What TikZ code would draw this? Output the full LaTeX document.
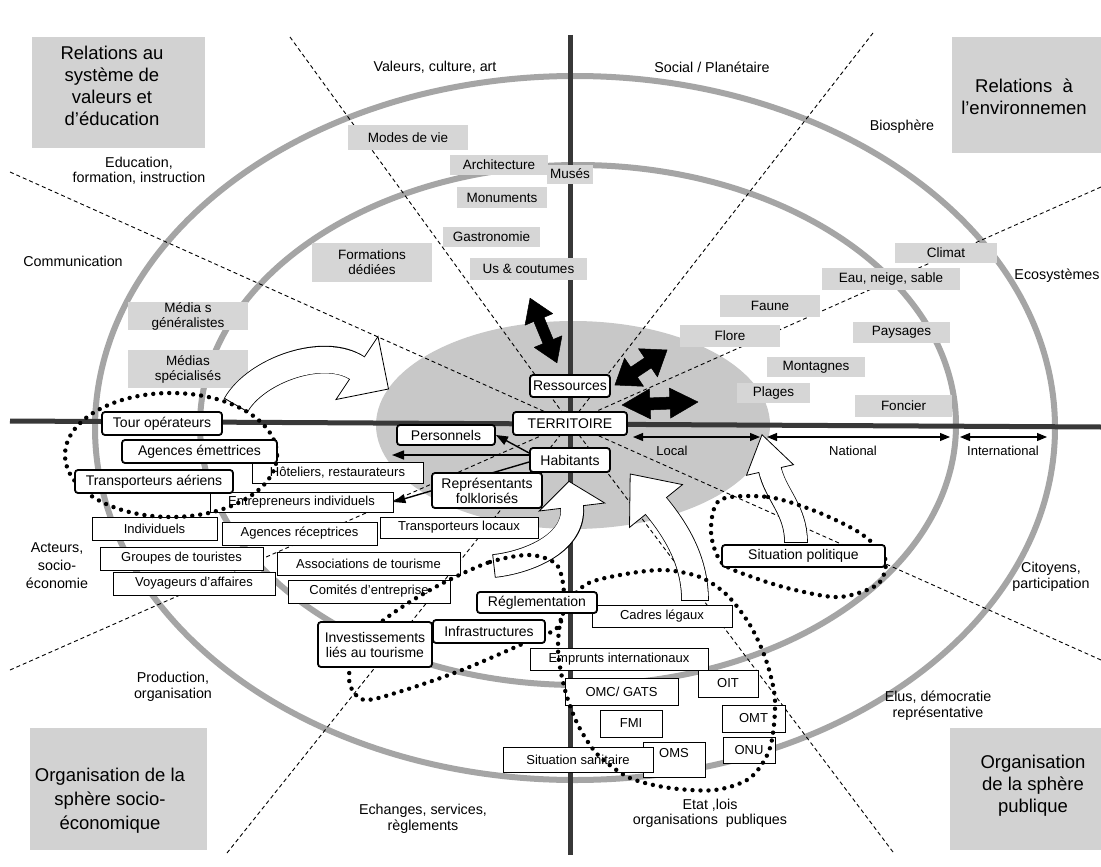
\documentclass[tikz,border=0pt]{standalone}
\usepackage{fontspec}
\setmainfont{Liberation Sans}
\usetikzlibrary{arrows.meta,shadows}

\definecolor{ringgray}{HTML}{A5A5A5}
\definecolor{coregray}{HTML}{C8C8C8}
\definecolor{tagfill}{HTML}{D6D6D6}
\definecolor{cornerfill}{HTML}{D2D2D2}
\definecolor{axisgray}{HTML}{383838}

\pgfdeclarelayer{base}
\pgfdeclarelayer{lower}
\pgfdeclarelayer{flows}
\pgfdeclarelayer{top}
\pgfsetlayers{base,lower,flows,main,top}

\tikzset{
  tag/.style={fill=tagfill, inner sep=0pt, align=center, font=\fontsize{13.5}{15}\selectfont},
  cornerbox/.style={fill=cornerfill, inner sep=0pt},
  cornertext/.style={align=center, inner sep=0pt, font=\fontsize{18.5}{22}\selectfont},
  sector/.style={align=center, inner sep=0pt, font=\fontsize{14.3}{16}\selectfont},
  scalelabel/.style={inner sep=0pt, font=\fontsize{13}{15}\selectfont},
  keybox/.style={draw=black, line width=1.8pt, rounded corners=3pt, fill=white, inner sep=0pt, align=center, font=\fontsize{14}{15}\selectfont},
  plainbox/.style={draw=black, line width=0.8pt, fill=white, inner sep=0pt, align=center, font=\fontsize{13}{15}\selectfont,
    drop shadow={shadow xshift=1.2pt, shadow yshift=-1.2pt, fill=black!75, opacity=1}},
  ring/.style={draw=ringgray, line width=6pt},
  mainaxis/.style={draw=axisgray, line width=5pt},
  spoke/.style={draw=black, line width=0.9pt, dash pattern=on 4pt off 3pt},
  dotring/.style={draw=black, line width=4.4pt, line cap=round, dash pattern=on 0pt off 8pt},
  link/.style={draw=black, line width=1.4pt, -{Triangle[length=12pt,width=9pt]}},
  span/.style={draw=black, line width=1.1pt, {Triangle[length=10pt,width=8pt]}-{Triangle[length=10pt,width=8pt]}},
  bandedge/.style={draw=black, line width=#1},
  bandfill/.style={draw=white, line width=#1},
  tiphead/.style={fill=white, draw=black, line width=0.8pt},
  twinhead/.style={fill=black, draw=black, line width=0.5pt, line join=round},
}

\begin{document}
\begin{tikzpicture}[x=1pt, y=-1pt]
\useasboundingbox (0,0) rectangle (1101,867);

\begin{pgfonlayer}{base}
\fill[white] (0,0) rectangle (1101,867);

% territory core and the two rings
\fill[coregray] (573,425) ellipse [x radius=197pt, y radius=104pt];
\draw[ring] (578,425) ellipse [x radius=378pt, y radius=260pt];
\draw[ring] (575,428) ellipse [x radius=480pt, y radius=352pt];

% dashed sector spokes
\coordinate (hub) at (570,423);
\coordinate (s1) at (290,37);
\coordinate (s2) at (10,172);
\coordinate (s3) at (873,33);
\coordinate (s4) at (1101,187);
\coordinate (s5) at (10,670);
\coordinate (s6) at (227,853);
\coordinate (s7) at (893,852);
\coordinate (s8) at (1101,660);
\foreach \s in {s1,s2,s3,s4,s5,s6,s7,s8} \draw[spoke] (\s) -- (hub);

% main axes
\coordinate (vtop) at (570,35);
\coordinate (vbot) at (570,855);
\coordinate (hleft) at (10,421);
\coordinate (hright) at (1101,427);
\draw[mainaxis] (vtop) -- (vbot);
\draw[mainaxis] (hleft) -- (hright);

% scale of the territory
\coordinate (loc1) at (633,437);
\coordinate (loc2) at (760,437);
\coordinate (nat1) at (767,437);
\coordinate (nat2) at (950,437);
\coordinate (int1) at (960,437);
\coordinate (int2) at (1047,437);
\draw[span] (loc1) -- (loc2);
\draw[span] (nat1) -- (nat2);
\draw[span] (int1) -- (int2);
\end{pgfonlayer}

\begin{pgfonlayer}{lower}
% corner headings
\node[cornerbox, minimum width=173pt, minimum height=111pt] (cTL) at (118.5,92.5) {};
\node[cornertext] (tTL) at (112,86) {Relations au\\système de\\valeurs et\\d'éducation};
\node[cornerbox, minimum width=149pt, minimum height=116pt] (cTR) at (1026.5,95) {};
\node[cornertext] (tTR) at (1024,97) {Relations\ \ à\\l'environnemen};
\node[cornerbox, minimum width=177pt, minimum height=122pt] (cBL) at (118.5,789) {};
\node[cornertext, font=\fontsize{18.5}{24}\selectfont] (tBL) at (110,801) {Organisation de la\\sphère socio-\\économique};
\node[cornerbox, minimum width=151pt, minimum height=122pt] (cBR) at (1025.5,789) {};
\node[cornertext] (tBR) at (1033,786) {Organisation\\de la sphère\\publique};

% sector labels
\node[sector] (valeurs) at (435,67) {Valeurs, culture, art};
\node[sector] (social) at (712,67) {Social / Planétaire};
\node[sector] (bios) at (902,127) {Biosphère};
\node[sector, font=\fontsize{14.3}{15}\selectfont] (educ) at (139,171) {Education,\\formation, instruction};
\node[sector] (comm) at (73,261) {Communication};
\node[sector] (ecos) at (1057,276) {Ecosystèmes};
\node[sector, font=\fontsize{14.3}{18}\selectfont] (acteurs) at (57,566) {Acteurs,\\socio-\\économie};
\node[sector] (citoy) at (1051,577) {Citoyens,\\participation};
\node[sector] (prod) at (173,687) {Production,\\organisation};
\node[sector] (echg) at (423,819) {Echanges, services,\\règlements};
\node[sector, font=\fontsize{14.3}{15}\selectfont] (etat) at (710,813) {Etat ,lois\\organisations\ \ publiques};
\node[sector] (elus) at (938,706) {Elus, démocratie\\représentative};
\node[scalelabel] (local) at (672,451) {Local};
\node[scalelabel] (natl) at (853,451) {National};
\node[scalelabel] (intl) at (1003,451) {International};

% resources of the territory
\node[tag, minimum width=120pt, minimum height=25pt] (modes) at (408,137.5) {Modes de vie};
\node[tag, minimum width=98pt, minimum height=20pt] (archi) at (499,165) {Architecture};
\node[tag, minimum width=46pt, minimum height=19pt] (muses) at (570,174) {Musés};
\node[tag, minimum width=90pt, minimum height=21pt] (monu) at (502,197.5) {Monuments};
\node[tag, minimum width=97pt, minimum height=20pt] (gastro) at (491.5,237) {Gastronomie};
\node[tag, minimum width=117pt, minimum height=22pt] (usc) at (528.5,269) {Us \& coutumes};
\node[tag, minimum width=120pt, minimum height=39pt] (forma) at (372,262.5) {Formations\\dédiées};
\node[tag, minimum width=120pt, minimum height=28pt] (mediag) at (188,316) {Média s\\généralistes};
\node[tag, minimum width=120pt, minimum height=38pt] (medias) at (188,369) {Médias\\spécialisés};
\node[tag, minimum width=102pt, minimum height=20pt] (climat) at (946,253) {Climat};
\node[tag, minimum width=138pt, minimum height=22pt] (eau) at (891,279) {Eau, neige, sable};
\node[tag, minimum width=100pt, minimum height=22pt] (faune) at (770,306) {Faune};
\node[tag, minimum width=100pt, minimum height=22pt] (flore) at (730,336) {Flore};
\node[tag, minimum width=97pt, minimum height=21pt] (pays) at (901.5,332.5) {Paysages};
\node[tag, minimum width=98pt, minimum height=20pt] (mont) at (816,367) {Montagnes};
\node[tag, minimum width=73pt, minimum height=20pt] (plages) at (773.5,393) {Plages};
\node[tag, minimum width=97pt, minimum height=22pt] (foncier) at (903.5,406) {Foncier};

% actors and institutions
\node[plainbox, minimum width=171pt, minimum height=21pt] (hotel) at (337.5,472.5) {Hôteliers, restaurateurs};
\node[plainbox, minimum width=183pt, minimum height=20pt] (entre) at (301.5,502) {Entrepreneurs individuels};
\node[plainbox, minimum width=125pt, minimum height=23pt] (indiv) at (154.5,528.5) {Individuels};
\node[plainbox, minimum width=155pt, minimum height=23pt] (agrec) at (299.5,533.5) {Agences réceptrices};
\node[plainbox, minimum width=158pt, minimum height=21pt] (trloc) at (459,527.5) {Transporteurs locaux};
\node[plainbox, minimum width=163pt, minimum height=23pt] (group) at (181.5,558.5) {Groupes de touristes};
\node[plainbox, minimum width=183pt, minimum height=23pt] (assoc) at (368.5,563.5) {Associations de tourisme};
\node[plainbox, minimum width=162pt, minimum height=23pt] (voyag) at (194,583.5) {Voyageurs d'affaires};
\node[plainbox, minimum width=162pt, minimum height=23pt] (comit) at (369,591.5) {Comités d'entreprise};
\node[plainbox, minimum width=140pt, minimum height=22pt] (cadres) at (662,616) {Cadres légaux};
\node[plainbox, minimum width=178pt, minimum height=22pt] (empr) at (619,659) {Emprunts internationaux};
\node[plainbox, minimum width=60pt, minimum height=27pt] (oit) at (728,683.5) {OIT};
\node[plainbox, minimum width=113pt, minimum height=27pt] (omc) at (621.5,691.5) {OMC/ GATS};
\node[plainbox, minimum width=62pt, minimum height=27pt] (fmi) at (631,723.5) {FMI};
\node[plainbox, minimum width=63pt, minimum height=27pt] (omt) at (753.5,718.5) {OMT};
\node[plainbox, minimum width=52pt, minimum height=26pt] (onu) at (749,750) {ONU};
\node[plainbox, minimum width=62pt, minimum height=35pt, text depth=14pt] (oms) at (674,759.5) {OMS};
\node[plainbox, minimum width=150pt, minimum height=25pt] (sitsan) at (578,759.5) {Situation sanitaire};
\end{pgfonlayer}

\begin{pgfonlayer}{flows}
% white flow arrows
\coordinate (aT) at (236,405);
\coordinate (aB) at (357,368);
\draw[bandedge=27.6pt] (aT) .. controls (256,370) and (324,346) .. (aB);
\filldraw[tiphead] (378,336.5) -- (388.5,389) -- (336,399.5) -- cycle;
\draw[bandfill=26pt, shorten >=-1.5pt] (aT) .. controls (256,370) and (324,346) .. (aB);
\draw[line width=0.8pt] (224,398.1) -- (248,411.9);

\coordinate (bT) at (494,566);
\coordinate (bB) at (572,507);
\draw[bandedge=23.6pt] (bT) .. controls (530,562) and (576,542) .. (bB);
\filldraw[tiphead] (604.7,503) -- (568.9,481.3) -- (539.3,511) -- cycle;
\draw[bandfill=22pt, shorten >=-1.5pt] (bT) .. controls (530,562) and (576,542) .. (bB);
\draw[line width=0.8pt] (495.3,577.7) -- (492.7,554.3);

\coordinate (cT) at (695,600);
\coordinate (cB) at (656,506);
\draw[bandedge=27.6pt] (cT) .. controls (695,560) and (675,529) .. (cB);
\filldraw[tiphead] (682.5,484.6) -- (630.2,474) -- (629.5,527.4) -- cycle;
\draw[bandfill=26pt, shorten >=-1.5pt] (cT) .. controls (695,560) and (675,529) .. (cB);
\draw[line width=0.8pt] (681.2,600) -- (708.8,600);

\coordinate (dT) at (796,542);
\coordinate (dB) at (770,470);
\draw[bandedge=23.6pt] (dT) .. controls (796,510) and (775.5,494.5) .. (dB);
\filldraw[tiphead] (793.5,464.7) -- (762,434.7) -- (746.5,475.3) -- cycle;
\draw[bandfill=22pt, shorten >=-1.5pt] (dT) .. controls (796,510) and (775.5,494.5) .. (dB);
\draw[line width=0.8pt] (784.2,542) -- (807.8,542);

% dotted groupings
\draw[dotring] (171,455) ellipse [x radius=106pt, y radius=62pt];
\draw[dotring] plot[smooth cycle] coordinates {(445,582) (490,562) (530,555) (557,565) (564,595) (558,627) (520,645) (462,670) (405,690) (365,700) (350,685) (352,660) (372,630) (405,605)};
\draw[dotring] plot[smooth cycle] coordinates {(585,585) (620,575) (663,570) (700,577) (727,595) (750,625) (766,660) (775,700) (770,748) (750,778) (715,790) (670,788) (630,778) (598,755) (578,725) (565,690) (558,650) (563,612)};
\draw[dotring] plot[smooth cycle] coordinates {(720,500) (768,497) (815,511) (860,533) (885,558) (878,584) (840,597) (795,590) (755,578) (722,563) (711,532)};
\end{pgfonlayer}

% key actors and territory
\node[keybox, minimum width=80pt, minimum height=22pt] (ress) at (570,386) {Ressources};
\node[keybox, minimum width=114pt, minimum height=23pt] (terr) at (570,423.5) {TERRITOIRE};
\node[keybox, minimum width=80pt, minimum height=24pt] (habit) at (570,460) {Habitants};
\node[keybox, minimum width=98pt, minimum height=20pt] (perso) at (446,435) {Personnels};
\node[keybox, minimum width=110pt, minimum height=35pt] (repr) at (487,490.5) {Représentants\\folklorisés};
\node[keybox, minimum width=120pt, minimum height=23pt] (tour) at (162,423.5) {Tour opérateurs};
\node[keybox, minimum width=155pt, minimum height=23pt] (agem) at (199.5,451.5) {Agences émettrices};
\node[keybox, minimum width=158pt, minimum height=23pt] (trans) at (154,481.5) {Transporteurs aériens};
\node[keybox, minimum width=163pt, minimum height=22pt] (sitpol) at (803.5,556) {Situation politique};
\node[keybox, minimum width=120pt, minimum height=21pt] (regl) at (537,602.5) {Réglementation};
\node[keybox, minimum width=112pt, minimum height=23pt] (infra) at (489,631.5) {Infrastructures};
\node[keybox, minimum width=114pt, minimum height=45pt] (invest) at (375,644.5) {Investissements\\liés au tourisme};

% links from the inhabitants
\begin{pgfonlayer}{flows}
\coordinate (longtip) at (392,455);
\draw[link] ([yshift=7pt]habit.west) -- (perso.east);
\draw[link] ([yshift=5pt]habit.west) -- (longtip);
\draw[link] ([yshift=-2pt]habit.west) -- (entre.east);
\end{pgfonlayer}

% exchanges between the territory and its environment
\begin{pgfonlayer}{top}
\begin{scope}[shift={(543.5,330.5)}, rotate=-67.4]
  \filldraw[twinhead] (-35,0) -- (-12,15) -- (-12,5.5) -- (12,5.5) -- (12,15) -- (35,0) -- (12,-15) -- (12,-5.5) -- (-12,-5.5) -- (-12,-15) -- cycle;
\end{scope}
\begin{scope}[shift={(641,367.5)}, rotate=33.9]
  \filldraw[twinhead] (-31.4,0) -- (-8.4,17) -- (-8.4,6) -- (8.4,6) -- (8.4,17) -- (31.4,0) -- (8.4,-17) -- (8.4,-6) -- (-8.4,-6) -- (-8.4,-17) -- cycle;
\end{scope}
\begin{scope}[shift={(660,403.5)}, rotate=2.3]
  \filldraw[twinhead] (-38,0) -- (-10,15) -- (-10,6) -- (10,6) -- (10,15) -- (38,0) -- (10,-15) -- (10,-6) -- (-10,-6) -- (-10,-15) -- cycle;
\end{scope}
\end{pgfonlayer}
\end{tikzpicture}
\end{document}
